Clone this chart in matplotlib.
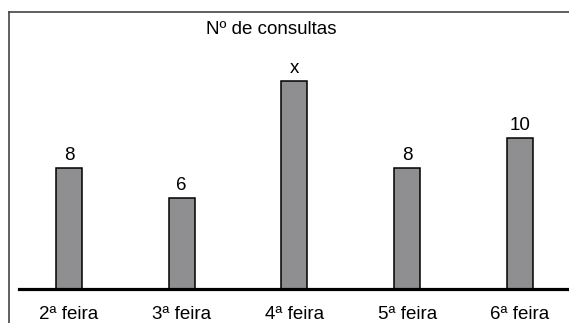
import matplotlib.pyplot as plt
from matplotlib.lines import Line2D

# ── Dados ─────────────────────────────────────────────────────────────────────
DIAS = ["2ª feira", "3ª feira", "4ª feira", "5ª feira", "6ª feira"]
CONSULTAS = [8, 6, 13.8, 8, 10]
ROTULOS = ["8", "6", "x", "8", "10"]

W, H = 569, 323
plt.rcParams["font.family"] = ["Liberation Sans", "DejaVu Sans"]

fig = plt.figure(figsize=(W / 100, H / 100), dpi=100)
ax = fig.add_axes([19 / W, 34 / H, (W - 19) / W, 277 / H])

pos = range(len(DIAS))
ax.bar(pos, CONSULTAS, width=0.23, color="#8f8f91", edgecolor="black", linewidth=1.1, zorder=2)

for i, (v, txt) in enumerate(zip(CONSULTAS, ROTULOS)):
    ax.annotate(txt, (i, v), xytext=(0, 3), textcoords="offset points",
                ha="center", va="bottom", fontsize=13.5)

ax.set_xlim(-0.443, 4.435)
ax.set_ylim(0, 18.35)
ax.set_xticks(list(pos))
ax.set_xticklabels(DIAS, fontsize=13.5)
ax.tick_params(axis="x", length=0, pad=12)
ax.set_yticks([])
for s in ["top", "right", "left"]:
    ax.spines[s].set_visible(False)
ax.spines["bottom"].set_linewidth(2.3)
ax.spines["bottom"].set_zorder(3)

# moldura externa (esquerda e topo)
fig.add_artist(Line2D([9 / W, 9 / W], [0, 1 - 12 / H], color="#444444", lw=1.2))
fig.add_artist(Line2D([9 / W, 1], [1 - 12 / H, 1 - 12 / H], color="#444444", lw=1.2))

fig.text(271 / W, 1 - 30 / H, "Nº de consultas", ha="center", va="center", fontsize=13.5)

plt.savefig("out.png", dpi=100)
